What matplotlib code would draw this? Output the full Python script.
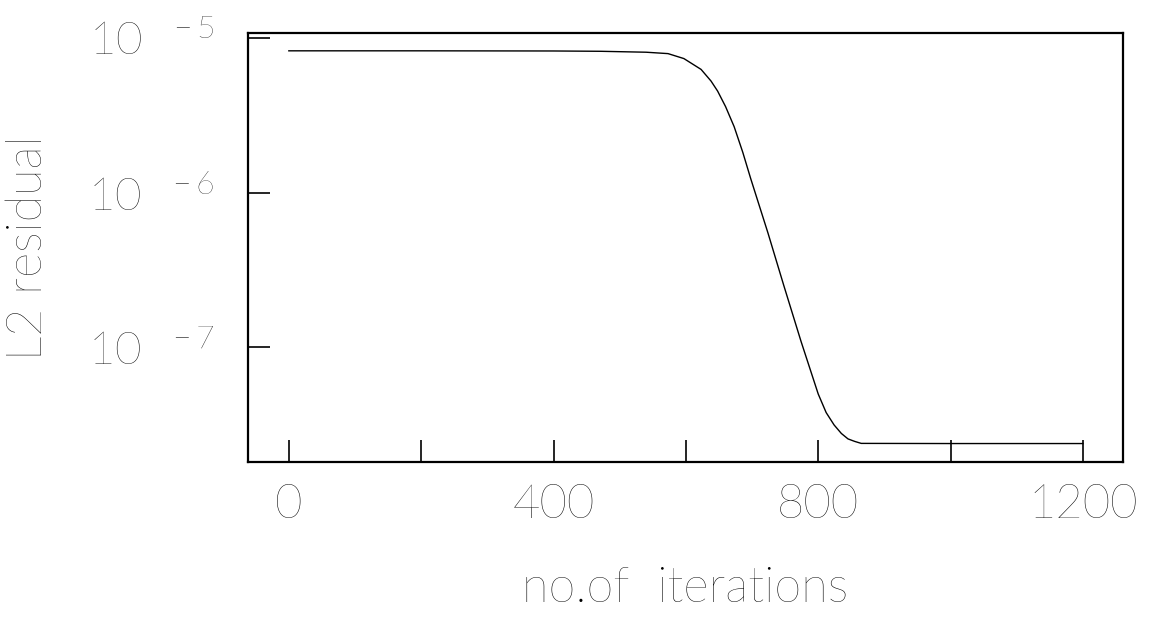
import numpy as np
import matplotlib
matplotlib.use("Agg")
import matplotlib.pyplot as plt
from matplotlib.ticker import FixedLocator, FuncFormatter

# values (log10 of residual)
iters = [0, 200, 400, 471, 540, 573, 597, 623, 638, 648, 660, 673, 686, 698,
         724, 748, 774, 800, 812, 824, 835, 845, 855, 865, 1000, 1200]
log_res = [-5.085, -5.085, -5.086, -5.088, -5.094, -5.103, -5.135, -5.205,
           -5.280, -5.345, -5.445, -5.575, -5.74, -5.91, -6.26, -6.60, -6.96,
           -7.30, -7.42, -7.50, -7.555, -7.59, -7.606, -7.619, -7.62, -7.62]
residual = 10 ** np.array(log_res)

xticks_major = [0, 400, 800, 1200]
xticks_minor = [200, 600, 1000]
yticks = [1e-5, 1e-6, 1e-7]

plt.rcParams['font.family'] = ['Lato', 'DejaVu Sans']
plt.rcParams['mathtext.fontset'] = 'custom'
plt.rcParams['mathtext.rm'] = 'Lato:light'
plt.rcParams['mathtext.it'] = 'Lato:light'

fig = plt.figure(figsize=(11.58, 6.17), dpi=100)
ax = fig.add_axes([0.214, 0.251, 0.756, 0.6955])

ax.plot(iters, residual, color='black', lw=1.0)
ax.set_yscale('log')
ax.set_xlim(-62, 1261)
ax.set_ylim(10 ** -7.74, 10 ** -4.97)

ax.xaxis.set_major_locator(FixedLocator(xticks_major))
ax.xaxis.set_minor_locator(FixedLocator(xticks_minor))
ax.yaxis.set_major_locator(FixedLocator(yticks))
ax.yaxis.set_minor_locator(FixedLocator([]))

def ylab(v, pos):
    e = int(round(np.log10(v)))
    return r"$\mathrm{10}^{\quad %d}$" % e

ax.yaxis.set_major_formatter(FuncFormatter(ylab))

ax.tick_params(axis='x', which='both', direction='in', length=16, width=1.2,
               pad=16, labelsize=34)
ax.tick_params(axis='y', which='both', direction='in', length=16, width=1.2,
               pad=24, labelsize=33)
for lab in ax.get_xticklabels() + ax.get_yticklabels():
    lab.set_fontweight('light')

for s in ax.spines.values():
    s.set_linewidth(1.6)

ax.set_xlabel('no.of  iterations', fontsize=35, fontweight='light', labelpad=28)
ax.set_ylabel('L2 residual', fontsize=35, fontweight='light')
ax.yaxis.set_label_coords(-0.225, 0.5)

fig.savefig('out.png', dpi=100, facecolor='white')
